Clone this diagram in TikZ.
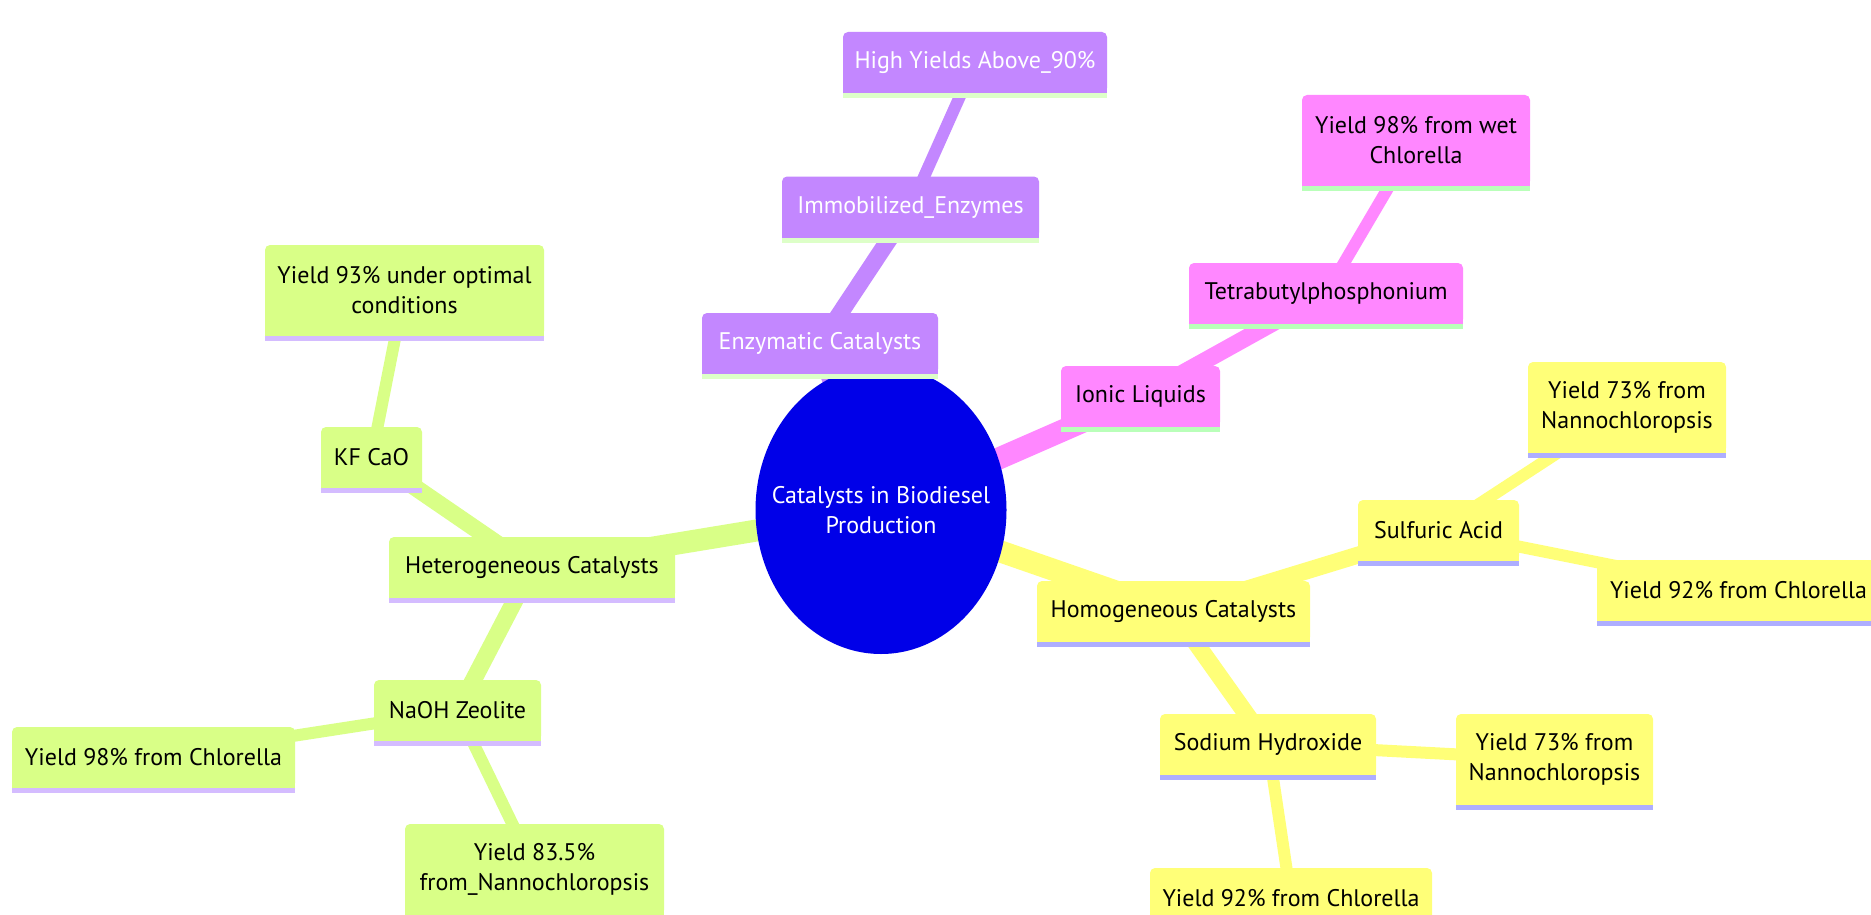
\documentclass[tikz,border=0pt]{standalone}
\usepackage{fontspec}
\setmainfont{PT Sans}
\pgfdeclarelayer{back}
\pgfdeclarelayer{bg}
\pgfsetlayers{back,bg,main}
\definecolor{cRoot}{HTML}{0000E8}
\definecolor{cYel}{HTML}{FFFF78}
\definecolor{cGrn}{HTML}{D9FF87}
\definecolor{cPur}{HTML}{C387FF}
\definecolor{cPnk}{HTML}{FF87FF}
\definecolor{sYel}{HTML}{AEAEFF}
\definecolor{sGrn}{HTML}{D4BCFF}
\definecolor{sPur}{HTML}{DDFFC8}
\definecolor{sPnk}{HTML}{B9FFB9}
\newcommand{\mmstripe}[3]{%
  \fill[#2] ([yshift=6pt]#1.south west) rectangle (#1.south east);
  \fill[#3] (#1.south west) rectangle ([yshift=-5pt]#1.south east);}
\tikzset{
  mm/.style={rectangle, rounded corners=5pt, inner sep=0pt, align=center,
    font=\fontsize{24}{30}\selectfont, minimum height=61pt},
  mmtwo/.style={mm, minimum height=91pt},
  ylw/.style={fill=cYel, text=black},
  grn/.style={fill=cGrn, text=black},
  pur/.style={fill=cPur, text=white},
  pnk/.style={fill=cPnk, text=black},
  e0/.style={line width=22pt},
  e1/.style={line width=17pt},
  e2/.style={line width=12pt},
}
\begin{document}
\begin{tikzpicture}[x=1pt,y=-1pt]
\useasboundingbox (0,0) rectangle (1871,915);
\begin{pgfonlayer}{back}
\fill[white] (0,0) rectangle (1871,915);
\end{pgfonlayer}
% root
\fill[cRoot] (881,510) ellipse [x radius=125.5pt, y radius=144pt];
\node[inner sep=0pt, text=white, align=center, font=\fontsize{24}{30}\selectfont] (root) at (881,510) {Catalysts in Biodiesel\\Production};
% enzymatic branch
\node[mm, pur, minimum width=236pt] (enz) at (820,343.5) {Enzymatic Catalysts};
\node[mm, pur, minimum width=257pt] (imm) at (910.5,207) {Immobilized\_Enzymes};
\node[mm, pur, minimum width=264pt] (high) at (975,62.5) {High Yields Above\_90\%};
% ionic branch
\node[mm, pnk, minimum width=159pt] (ion) at (1140.5,396.5) {Ionic Liquids};
\node[mm, pnk, minimum width=274pt] (tet) at (1326,293.5) {Tetrabutylphosphonium};
\node[mmtwo, pnk, minimum width=228pt] (wet) at (1416,140.5) {Yield 98\% from wet\\Chlorella};
% homogeneous branch
\node[mm, ylw, minimum width=273pt] (hom) at (1173.5,611.5) {Homogeneous Catalysts};
\node[mm, ylw, minimum width=161pt] (sul) at (1438.5,530.5) {Sulfuric Acid};
\node[mmtwo, ylw, minimum width=198pt] (s73) at (1627,407.5) {Yield 73\% from\\Nannochloropsis};
\node[mm, ylw, minimum width=283pt] (s92) at (1738.5,590.5) {Yield 92\% from Chlorella};
\node[mm, ylw, minimum width=216pt] (sod) at (1268,744.5) {Sodium Hydroxide};
\node[mmtwo, ylw, minimum width=197pt] (d73) at (1554.5,759.5) {Yield 73\% from\\Nannochloropsis};
\node[mm, ylw, minimum width=282pt] (d92) at (1291,898.5) {Yield 92\% from Chlorella};
% heterogeneous branch
\node[mm, grn, minimum width=286pt] (het) at (532,567.5) {Heterogeneous Catalysts};
\node[mm, grn, minimum width=101pt] (kf) at (371.5,457.5) {KF CaO};
\node[mmtwo, grn, minimum width=279pt] (y93) at (404.5,290.5) {Yield 93\% under optimal\\conditions};
\node[mm, grn, minimum width=167pt] (nao) at (457.5,710.5) {NaOH Zeolite};
\node[mm, grn, minimum width=283pt] (l98) at (153.5,757.5) {Yield 98\% from Chlorella};
\node[mmtwo, grn, minimum width=259pt] (l83) at (534.5,869.5) {Yield 83.5\%\\from\_Nannochloropsis};
% stripes
\mmstripe{enz}{cPur}{sPur}
\mmstripe{imm}{cPur}{sPur}
\mmstripe{high}{cPur}{sPur}
\mmstripe{ion}{cPnk}{sPnk}
\mmstripe{tet}{cPnk}{sPnk}
\mmstripe{wet}{cPnk}{sPnk}
\mmstripe{hom}{cYel}{sYel}
\mmstripe{sul}{cYel}{sYel}
\mmstripe{s73}{cYel}{sYel}
\mmstripe{s92}{cYel}{sYel}
\mmstripe{sod}{cYel}{sYel}
\mmstripe{d73}{cYel}{sYel}
\mmstripe{d92}{cYel}{sYel}
\mmstripe{het}{cGrn}{sGrn}
\mmstripe{kf}{cGrn}{sGrn}
\mmstripe{y93}{cGrn}{sGrn}
\mmstripe{nao}{cGrn}{sGrn}
\mmstripe{l98}{cGrn}{sGrn}
\mmstripe{l83}{cGrn}{sGrn}
% edges
\begin{pgfonlayer}{bg}
\draw[e0, cPur] (root.center) -- (enz.center);
\draw[e1, cPur] (enz.center) -- (imm.center);
\draw[e2, cPur] (imm.center) -- (high.center);
\draw[e0, cPnk] (root.center) -- (ion.center);
\draw[e1, cPnk] (ion.center) -- (tet.center);
\draw[e2, cPnk] (tet.center) -- (wet.center);
\draw[e0, cYel] (root.center) -- (hom.center);
\draw[e1, cYel] (hom.center) -- (sul.center);
\draw[e2, cYel] (sul.center) -- (s73.center);
\draw[e2, cYel] (sul.center) -- (s92.center);
\draw[e1, cYel] (hom.center) -- (sod.center);
\draw[e2, cYel] (sod.center) -- (d73.center);
\draw[e2, cYel] (sod.center) -- (d92.center);
\draw[e0, cGrn] (root.center) -- (het.center);
\draw[e1, cGrn] (het.center) -- (kf.center);
\draw[e2, cGrn] (kf.center) -- (y93.center);
\draw[e1, cGrn] (het.center) -- (nao.center);
\draw[e2, cGrn] (nao.center) -- (l98.center);
\draw[e2, cGrn] (nao.center) -- (l83.center);
\end{pgfonlayer}
\end{tikzpicture}
\end{document}
